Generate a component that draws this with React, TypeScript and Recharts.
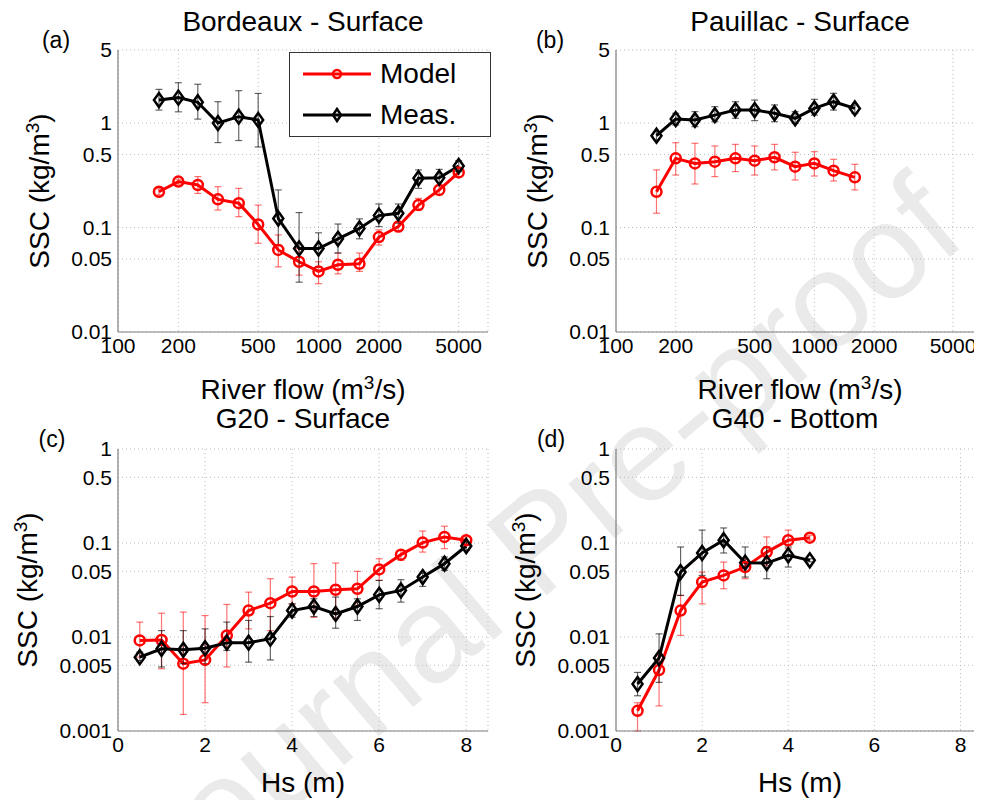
import React from 'react';
import { LineChart, Line, XAxis, YAxis, CartesianGrid, ErrorBar, Legend } from 'recharts';

const FONT = '"Liberation Sans", Arial, Helvetica, sans-serif';
const RED = '#ff0000';

// (a) Bordeaux - Surface
const bdxFlow = [160, 200, 250, 315, 400, 500, 630, 800, 1000, 1250, 1600, 2000, 2500, 3150, 4000, 5000];
const bdxModel = [0.22, 0.275, 0.255, 0.186, 0.171, 0.107, 0.061, 0.047, 0.038, 0.044, 0.045, 0.081, 0.102, 0.164, 0.229, 0.337];
const bdxModelLo = [0.205, 0.26, 0.212, 0.147, 0.127, 0.0706, 0.042, 0.035, 0.029, 0.036, 0.038, 0.068, 0.091, 0.147, 0.205, 0.307];
const bdxModelHi = [0.235, 0.29, 0.307, 0.246, 0.237, 0.164, 0.085, 0.063, 0.047, 0.057, 0.057, 0.095, 0.114, 0.19, 0.255, 0.369];
const bdxMeas = [1.66, 1.75, 1.58, 1.0, 1.15, 1.07, 0.122, 0.063, 0.063, 0.078, 0.098, 0.13, 0.137, 0.296, 0.3, 0.388];
const bdxMeasLo = [1.33, 1.28, 1.09, 0.65, 0.68, 0.59, 0.068, 0.03, 0.042, 0.057, 0.078, 0.102, 0.11, 0.237, 0.252, 0.343];
const bdxMeasHi = [2.1, 2.43, 2.35, 1.6, 2.04, 1.92, 0.229, 0.139, 0.089, 0.108, 0.121, 0.168, 0.168, 0.356, 0.36, 0.436];

// (b) Pauillac - Surface
const pauFlow = [160, 200, 250, 315, 400, 500, 630, 800, 1000, 1250, 1600];
const pauModel = [0.22, 0.459, 0.411, 0.427, 0.459, 0.436, 0.47, 0.382, 0.411, 0.35, 0.302];
const pauModelLo = [0.137, 0.318, 0.261, 0.307, 0.343, 0.318, 0.356, 0.285, 0.311, 0.279, 0.229];
const pauModelHi = [0.356, 0.648, 0.64, 0.603, 0.625, 0.603, 0.625, 0.525, 0.532, 0.45, 0.403];
const pauMeas = [0.757, 1.09, 1.07, 1.19, 1.33, 1.33, 1.24, 1.11, 1.38, 1.6, 1.38];
const pauMeasLo = [0.689, 0.958, 0.923, 1.03, 1.11, 1.054, 1.03, 0.993, 1.19, 1.33, 1.24];
const pauMeasHi = [0.827, 1.24, 1.285, 1.435, 1.6, 1.66, 1.49, 1.285, 1.686, 1.925, 1.49];

// (c) G20 - Surface
const g20Hs = [0.5, 1, 1.5, 2, 2.5, 3, 3.5, 4, 4.5, 5, 5.5, 6, 6.5, 7, 7.5, 8];
const g20Model = [0.0092, 0.0093, 0.0052, 0.0057, 0.0104, 0.0191, 0.0229, 0.0305, 0.0305, 0.0318, 0.0326, 0.0524, 0.0752, 0.101, 0.116, 0.107];
const g20ModelLo = [0.0061, 0.0046, 0.0015, 0.002, 0.0048, 0.0122, 0.0117, 0.0225, 0.0162, 0.0156, 0.0216, 0.04, 0.0654, 0.08, 0.087, 0.0985];
const g20ModelHi = [0.0144, 0.0179, 0.0184, 0.0169, 0.0222, 0.03, 0.0417, 0.0434, 0.0603, 0.0612, 0.0499, 0.068, 0.0836, 0.134, 0.151, 0.116];
const g20Meas = [0.0061, 0.0075, 0.0073, 0.0076, 0.0087, 0.0087, 0.0096, 0.0191, 0.0211, 0.0176, 0.0211, 0.0281, 0.0313, 0.0434, 0.0603, 0.0929];
const g20MeasLo = [0.0056, 0.0048, 0.0052, 0.0052, 0.0072, 0.0054, 0.0057, 0.0162, 0.0165, 0.0124, 0.015, 0.02, 0.0235, 0.0345, 0.0512, 0.0836];
const g20MeasHi = [0.0069, 0.0117, 0.0117, 0.0122, 0.0144, 0.015, 0.0165, 0.0225, 0.0255, 0.0266, 0.0255, 0.04, 0.0407, 0.0479, 0.071, 0.1025];

// (d) G40 - Bottom
const g40Hs = [0.5, 1, 1.5, 2, 2.5, 3, 3.5, 4, 4.5];
const g40Model = [0.00164, 0.00445, 0.0191, 0.0384, 0.0452, 0.0555, 0.08, 0.107, 0.114];
const g40ModelLo = [0.001, 0.00185, 0.0104, 0.0225, 0.0326, 0.0417, 0.0578, 0.087, 0.107];
const g40ModelHi = [0.002, 0.0063, 0.0277, 0.049, 0.0627, 0.0665, 0.116, 0.137, 0.121];
const g40Meas = [0.00316, 0.00598, 0.049, 0.0783, 0.107, 0.0617, 0.0612, 0.074, 0.0654];
const g40MeasLo = [0.00237, 0.00329, 0.0277, 0.0452, 0.0783, 0.0434, 0.0417, 0.0555, 0.063];
const g40MeasHi = [0.0042, 0.0108, 0.0907, 0.137, 0.1446, 0.0907, 0.0907, 0.0907, 0.068];

const flowTicks = [100, 200, 500, 1000, 2000, 5000];
const hsTicks = [0, 2, 4, 6, 8];
const sscTicksTop = [0.01, 0.05, 0.1, 0.5, 1, 5];
const sscTicksBottom = [0.001, 0.005, 0.01, 0.05, 0.1, 0.5, 1];
const legendOrder = ['Model', 'Meas.'];

const buildRows = (
  x: number[], model: number[], modelLo: number[], modelHi: number[],
  meas: number[], measLo: number[], measHi: number[]
) =>
  x.map((v, i) => ({
    x: v,
    model: model[i],
    modelErr: [model[i] - modelLo[i], modelHi[i] - model[i]],
    meas: meas[i],
    measErr: [meas[i] - measLo[i], measHi[i] - meas[i]],
  }));

const bdxData = buildRows(bdxFlow, bdxModel, bdxModelLo, bdxModelHi, bdxMeas, bdxMeasLo, bdxMeasHi);
const pauData = buildRows(pauFlow, pauModel, pauModelLo, pauModelHi, pauMeas, pauMeasLo, pauMeasHi);
const g20Data = buildRows(g20Hs, g20Model, g20ModelLo, g20ModelHi, g20Meas, g20MeasLo, g20MeasHi);
const g40Data = buildRows(g40Hs, g40Model, g40ModelLo, g40ModelHi, g40Meas, g40MeasLo, g40MeasHi);

const CircleDot = (props: any) => {
  const { cx, cy, index } = props;
  if (cx == null || cy == null) return null;
  return <circle key={`c-${index}`} cx={cx} cy={cy} r={5} fill="none" stroke={RED} strokeWidth={2.5} />;
};

const DiamondDot = (props: any) => {
  const { cx, cy, index } = props;
  if (cx == null || cy == null) return null;
  return (
    <path
      key={`d-${index}`}
      d={`M${cx},${cy - 7} L${cx + 5},${cy} L${cx},${cy + 7} L${cx - 5},${cy} Z`}
      fill="none"
      stroke="#000"
      strokeWidth={2.5}
    />
  );
};

// legend payload order is not guaranteed, so sort it to Model, Meas.
const LegendBox = ({ payload }: any) => {
  const items = [...(payload || [])].sort(
    (a: any, b: any) => legendOrder.indexOf(a.value) - legendOrder.indexOf(b.value)
  );
  return (
    <div style={{ border: '1px solid #333', background: '#fff', width: 200, height: 83, fontFamily: FONT }}>
      {items.map((p: any) => (
        <div key={p.value} style={{ display: 'flex', alignItems: 'center', height: 41 }}>
          <svg width={90} height={20}>
            <line x1={13} y1={10} x2={81} y2={10} stroke={p.color} strokeWidth={3} />
            {p.value === 'Model' ? (
              <circle cx={47} cy={10} r={4} fill="none" stroke={RED} strokeWidth={2.5} />
            ) : (
              <path d="M47,4 L51,10 L47,16 L43,10 Z" fill="none" stroke="#000" strokeWidth={2.5} />
            )}
          </svg>
          <span style={{ fontSize: 28, lineHeight: 1, color: '#000' }}>{p.value}</span>
        </div>
      ))}
    </div>
  );
};

const Panel = ({ left, top, data, xScale, xDomain, xTicks, yDomain, yTicks, marginTop, marginRight, legend }: any) => (
  <div style={{ position: 'absolute', left, top }}>
    <LineChart width={500} height={370} data={data} margin={{ top: marginTop, right: marginRight, left: 0, bottom: 0 }}>
      <CartesianGrid stroke="#bdbdbd" strokeDasharray="1 3" />
      <XAxis
        dataKey="x"
        type="number"
        scale={xScale}
        domain={xDomain}
        ticks={xTicks}
        interval={0}
        allowDataOverflow
        height={370 - marginTop - 282}
        axisLine={{ stroke: '#808080', strokeWidth: 1.2 }}
        tickLine={false}
        tickSize={0}
        tickMargin={6}
        tick={{ fontSize: 21, fill: '#000' }}
      />
      <YAxis
        type="number"
        scale="log"
        domain={yDomain}
        ticks={yTicks}
        interval={0}
        allowDataOverflow
        width={118}
        axisLine={{ stroke: '#808080', strokeWidth: 1.2 }}
        tickLine={false}
        tickSize={0}
        tickMargin={6}
        tick={{ fontSize: 21, fill: '#000' }}
        tickFormatter={(v: number) => String(v)}
      />
      <Line dataKey="model" name="Model" stroke={RED} strokeWidth={3} dot={<CircleDot />} isAnimationActive={false}>
        <ErrorBar dataKey="modelErr" direction="y" stroke="rgba(255,0,0,0.55)" strokeWidth={1.2} width={3.5} />
      </Line>
      <Line dataKey="meas" name="Meas." stroke="#000" strokeWidth={3} dot={<DiamondDot />} isAnimationActive={false}>
        <ErrorBar dataKey="measErr" direction="y" stroke="rgba(0,0,0,0.6)" strokeWidth={1.2} width={3.5} />
      </Line>
      {legend && (
        <Legend
          layout="horizontal"
          verticalAlign="middle"
          align="center"
          content={<LegendBox />}
          wrapperStyle={{ position: 'absolute', left: 289, top: 52, width: 202, height: 85 }}
        />
      )}
    </LineChart>
  </div>
);

const Txt = ({ x, y, size = 28, rotate = 0, children }: any) => (
  <div
    style={{
      position: 'absolute',
      left: x,
      top: y,
      transform: `translate(-50%, -50%) rotate(${rotate}deg)`,
      fontSize: size,
      lineHeight: 0.85,
      whiteSpace: 'nowrap',
      color: '#000',
    }}
  >
    {children}
  </div>
);

const Sup = ({ children }: any) => (
  <span style={{ fontSize: '0.68em', position: 'relative', top: '-0.55em' }}>{children}</span>
);

const sscLabel = (
  <>
    SSC (kg/m<Sup>3</Sup>)
  </>
);
const flowLabel = (
  <>
    River flow (m<Sup>3</Sup>/s)
  </>
);

export default function App() {
  return (
    <div
      style={{
        position: 'relative',
        width: 982,
        height: 800,
        marginLeft: -8,
        marginTop: -8,
        overflow: 'hidden',
        background: '#fff',
        fontFamily: FONT,
      }}
    >
      <div
        style={{
          position: 'absolute',
          left: 540,
          top: 540,
          transform: 'translate(-50%, -50%) rotate(-40deg)',
          fontSize: 135,
          color: '#eaeaea',
          whiteSpace: 'nowrap',
          lineHeight: 1,
        }}
      >
        Journal Pre-proof
      </div>

      <Panel left={0} top={0} data={bdxData} xScale="log" xDomain={[100, 7000]} xTicks={flowTicks}
        yDomain={[0.01, 5]} yTicks={sscTicksTop} marginTop={50} marginRight={12} legend />
      <Panel left={498} top={0} data={pauData} xScale="log" xDomain={[100, 7000]} xTicks={flowTicks}
        yDomain={[0.01, 5]} yTicks={sscTicksTop} marginTop={50} marginRight={16} />
      <Panel left={0} top={400} data={g20Data} xScale="linear" xDomain={[0, 8.5]} xTicks={hsTicks}
        yDomain={[0.001, 1]} yTicks={sscTicksBottom} marginTop={49} marginRight={12} />
      <Panel left={498} top={400} data={g40Data} xScale="linear" xDomain={[0, 8.5]} xTicks={hsTicks}
        yDomain={[0.001, 1]} yTicks={sscTicksBottom} marginTop={49} marginRight={16} />

      <Txt x={303} y={22}>Bordeaux - Surface</Txt>
      <Txt x={800} y={22}>Pauillac - Surface</Txt>
      <Txt x={303} y={419}>G20 - Surface</Txt>
      <Txt x={795} y={419}>G40 - Bottom</Txt>

      <Txt x={303} y={390}>{flowLabel}</Txt>
      <Txt x={800} y={390}>{flowLabel}</Txt>
      <Txt x={303} y={783}>Hs (m)</Txt>
      <Txt x={800} y={783}>Hs (m)</Txt>

      <Txt x={40} y={191} rotate={-90}>{sscLabel}</Txt>
      <Txt x={538} y={191} rotate={-90}>{sscLabel}</Txt>
      <Txt x={28} y={590} rotate={-90}>{sscLabel}</Txt>
      <Txt x={526} y={590} rotate={-90}>{sscLabel}</Txt>

      <Txt x={56} y={41} size={23}>(a)</Txt>
      <Txt x={550} y={41} size={23}>(b)</Txt>
      <Txt x={52} y={440} size={23}>(c)</Txt>
      <Txt x={551} y={440} size={23}>(d)</Txt>
    </div>
  );
}
